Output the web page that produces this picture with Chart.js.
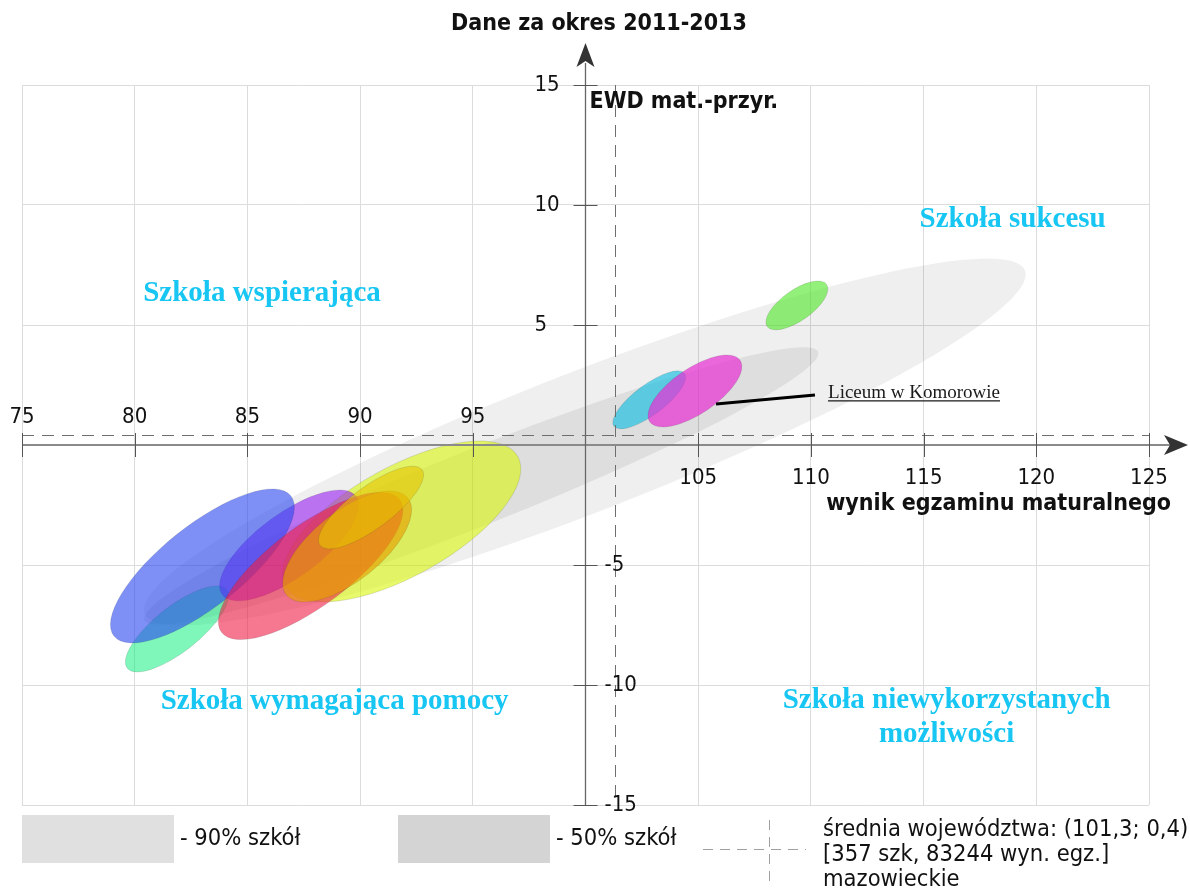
<!DOCTYPE html>
<html lang="pl">
<head>
<meta charset="utf-8">
<title>EWD mat.-przyr. 2011-2013</title>
<script src="https://cdn.jsdelivr.net/npm/chart.js@4.4.1/dist/chart.umd.min.js"></script>
<style>
  html, body { margin: 0; padding: 0; background: #fff; }
  canvas { display: block; }
</style>
</head>
<body>
<canvas id="ewdChart" width="1190" height="889"></canvas>
<script>
// ── Data ──────────────────────────────────────────────────
const xTicksAbove = [75, 80, 85, 90, 95];
const xTicksBelow = [105, 110, 115, 120, 125];
const yTicksLeft  = [5, 10, 15];
const yTicksRight = [-5, -10, -15];
const allXTicks   = [75, 80, 85, 90, 95, 100, 105, 110, 115, 120, 125];
const allYTicks   = [-15, -10, -5, 0, 5, 10, 15];

const avgX = 101.3;   // średnia województwa
const avgY = 0.4;

// areas of schools: ends of the long axis + width/length ratio
const areaX1    = [80.44, 80.43];
const areaY1    = [-7.02, -7.29];
const areaX2    = [119.50, 110.32];
const areaY2    = [7.27, 3.88];
const areaRatio = [0.148, 0.105];

// single schools (ellipse = confidence region)
const schoolX1    = [108.06, 101.26, 102.85, 86.69, 79.67, 83.88, 79.08, 83.85, 86.73, 88.22];
const schoolY1    = [4.94, 0.78, 0.97, -5.89, -9.30, -6.23, -7.96, -7.80, -6.25, -4.18];
const schoolX2    = [110.70, 104.40, 106.86, 97.00, 84.08, 89.82, 86.93, 91.76, 92.12, 92.75];
const schoolY2    = [6.69, 2.98, 3.53, -0.48, -6.03, -2.14, -2.12, -2.28, -2.21, -1.03];
const schoolRatio = [0.42, 0.34, 0.415, 0.409, 0.356, 0.384, 0.36, 0.36, 0.445, 0.33];

// leader line for the highlighted school
const markerX = [105.79, 110.18];
const markerY = [1.71, 2.08];

const quadrantLabels = ['Szkoła wspierająca', 'Szkoła sukcesu', 'Szkoła wymagająca pomocy',
                        'Szkoła niewykorzystanych', 'możliwości'];

// ── Styles ────────────────────────────────────────────────
const areaColors   = ['rgba(0,0,0,0.062)', 'rgba(0,0,0,0.075)'];
const schoolColors = [
  'rgba(80,230,40,0.62)',   // green top
  'rgba(20,190,225,0.65)',  // cyan
  'rgba(230,50,210,0.72)',  // magenta
  'rgba(215,245,0,0.58)',   // big yellow
  'rgba(0,240,120,0.5)',    // mint
  'rgba(150,30,240,0.6)',   // purple
  'rgba(40,70,240,0.6)',    // blue
  'rgba(240,30,70,0.6)',    // red
  'rgba(230,160,0,0.65)',   // orange
  'rgba(230,195,0,0.6)',    // gold
];

const SANS  = '"DejaVu Sans Condensed", "DejaVu Sans", sans-serif';
const SERIF = '"Liberation Serif", "Times New Roman", serif';
const CYAN  = '#17c6f2';

function drawEllipse(ctx, xs, ys, x1, y1, x2, y2, ratio, fill) {
  const px1 = xs.getPixelForValue(x1), py1 = ys.getPixelForValue(y1);
  const px2 = xs.getPixelForValue(x2), py2 = ys.getPixelForValue(y2);
  const a   = Math.hypot(px2 - px1, py2 - py1) / 2;
  const ang = Math.atan2(py2 - py1, px2 - px1);
  ctx.beginPath();
  ctx.ellipse((px1 + px2) / 2, (py1 + py2) / 2, a, a * ratio, ang, 0, Math.PI * 2);
  ctx.fillStyle = fill;
  ctx.fill();
}

function text(ctx, str, x, y, font, color, align) {
  ctx.font = font;
  ctx.fillStyle = color;
  ctx.textAlign = align || 'left';
  ctx.textBaseline = 'middle';
  ctx.fillText(str, x, y);
}

const ewdPlugin = {
  id: 'ewdPlugin',
  beforeDatasetsDraw(chart) {
    const { ctx, scales: { x, y } } = chart;
    ctx.save();
    areaX1.forEach((_, i) =>
      drawEllipse(ctx, x, y, areaX1[i], areaY1[i], areaX2[i], areaY2[i], areaRatio[i], areaColors[i]));
    ctx.lineWidth = 0.8;
    schoolX1.forEach((_, i) => {
      drawEllipse(ctx, x, y, schoolX1[i], schoolY1[i], schoolX2[i], schoolY2[i], schoolRatio[i], schoolColors[i]);
      ctx.strokeStyle = 'rgba(60,60,60,0.18)';
      ctx.stroke();
    });
    ctx.restore();
  },
  afterDatasetsDraw(chart) {
    const { ctx, chartArea: ca, scales: { x, y } } = chart;
    const x0 = x.getPixelForValue(100), y0 = y.getPixelForValue(0);
    ctx.save();

    // average lines
    ctx.strokeStyle = '#6e6e6e';
    ctx.lineWidth = 1;
    ctx.setLineDash([12, 8]);
    const ax = Math.round(x.getPixelForValue(avgX)) + 0.5;
    const ay = Math.round(y.getPixelForValue(avgY)) + 0.5;
    ctx.beginPath();
    ctx.moveTo(ax, ca.top); ctx.lineTo(ax, ca.bottom);
    ctx.moveTo(ca.left, ay); ctx.lineTo(ca.right, ay);
    ctx.stroke();
    ctx.setLineDash([]);

    // axes
    ctx.strokeStyle = '#8a8a8a';
    ctx.lineWidth = 2;
    ctx.beginPath();
    ctx.moveTo(ca.left, y0); ctx.lineTo(ca.right + 22, y0);
    ctx.stroke();
    ctx.strokeStyle = '#666';
    ctx.lineWidth = 1.3;
    ctx.beginPath();
    ctx.moveTo(x0, ca.bottom); ctx.lineTo(x0, ca.top - 22);
    ctx.stroke();

    // arrow heads
    ctx.fillStyle = '#333';
    ctx.beginPath();
    ctx.moveTo(x0, ca.top - 42);
    ctx.lineTo(x0 + 9, ca.top - 18);
    ctx.lineTo(x0, ca.top - 24);
    ctx.lineTo(x0 - 9, ca.top - 18);
    ctx.closePath();
    ctx.fill();
    ctx.beginPath();
    ctx.moveTo(ca.right + 39, y0);
    ctx.lineTo(ca.right + 15, y0 - 10);
    ctx.lineTo(ca.right + 21, y0);
    ctx.lineTo(ca.right + 15, y0 + 10);
    ctx.closePath();
    ctx.fill();

    // tick marks
    ctx.strokeStyle = '#555';
    ctx.lineWidth = 1;
    ctx.beginPath();
    allXTicks.forEach(v => {
      if (v === 100) return;
      const px = Math.round(x.getPixelForValue(v)) + 0.5;
      ctx.moveTo(px, y0 - 12); ctx.lineTo(px, y0 + 12);
    });
    allYTicks.forEach(v => {
      if (v === 0) return;
      const py = Math.round(y.getPixelForValue(v)) + 0.5;
      ctx.moveTo(x0 - 12, py); ctx.lineTo(x0 + 12, py);
    });
    ctx.stroke();

    // tick labels
    const tickFont = '22px ' + SANS;
    xTicksAbove.forEach(v => text(ctx, String(v), x.getPixelForValue(v), y0 - 28, tickFont, '#111', 'center'));
    xTicksBelow.forEach(v => text(ctx, String(v), x.getPixelForValue(v), y0 + 33, tickFont, '#111', 'center'));
    yTicksLeft.forEach(v => text(ctx, String(v), x0 - 51, y.getPixelForValue(v), tickFont, '#111', 'left'));
    yTicksRight.forEach(v => text(ctx, String(v), x0 + 19, y.getPixelForValue(v), tickFont, '#111', 'left'));

    // titles
    const boldFont = 'bold 23px ' + SANS;
    text(ctx, 'Dane za okres 2011-2013', 599, 24, boldFont, '#111', 'center');
    text(ctx, 'EWD mat.-przyr.', x0 + 4, ca.top + 17, boldFont, '#111', 'left');
    text(ctx, 'wynik egzaminu maturalnego', ca.right + 22, y0 + 59, boldFont, '#111', 'right');

    // quadrant labels
    const qFont = 'bold 29px ' + SERIF;
    text(ctx, quadrantLabels[0], x.getPixelForValue(85.65),  y.getPixelForValue(6.3),    qFont, CYAN, 'center');
    text(ctx, quadrantLabels[1], x.getPixelForValue(118.95), y.getPixelForValue(9.4),    qFont, CYAN, 'center');
    text(ctx, quadrantLabels[2], x.getPixelForValue(88.87),  y.getPixelForValue(-10.68), qFont, CYAN, 'center');
    text(ctx, quadrantLabels[3], x.getPixelForValue(116.02), y.getPixelForValue(-10.63), qFont, CYAN, 'center');
    text(ctx, quadrantLabels[4], x.getPixelForValue(116.02), y.getPixelForValue(-12.05), qFont, CYAN, 'center');

    // highlighted school
    ctx.strokeStyle = '#000';
    ctx.lineWidth = 3;
    ctx.beginPath();
    ctx.moveTo(x.getPixelForValue(markerX[0]), y.getPixelForValue(markerY[0]));
    ctx.lineTo(x.getPixelForValue(markerX[1]), y.getPixelForValue(markerY[1]));
    ctx.stroke();
    const lx = x.getPixelForValue(110.76), ly = y.getPixelForValue(2.17);
    ctx.font = '19px ' + SERIF;
    text(ctx, 'Liceum w Komorowie', lx, ly, ctx.font, '#1a1a1a', 'left');
    const lw = ctx.measureText('Liceum w Komorowie').width;
    ctx.lineWidth = 1.3;
    ctx.strokeStyle = '#1a1a1a';
    ctx.beginPath();
    ctx.moveTo(lx, ly + 8); ctx.lineTo(lx + lw, ly + 8);
    ctx.stroke();

    // legend
    const legFont = '23.5px ' + SANS;
    ctx.fillStyle = '#e0e0e0';
    ctx.fillRect(22, 815, 152, 48);
    text(ctx, '- 90% szkół', 180, 839, legFont, '#111', 'left');
    ctx.fillStyle = '#d4d4d4';
    ctx.fillRect(398, 815, 152, 48);
    text(ctx, '- 50% szkół', 556, 839, legFont, '#111', 'left');
    ctx.strokeStyle = '#a0a0a0';
    ctx.lineWidth = 1;
    ctx.setLineDash([10, 7]);
    ctx.beginPath();
    ctx.moveTo(703, 849.5); ctx.lineTo(806, 849.5);
    ctx.moveTo(769.5, 820); ctx.lineTo(769.5, 882);
    ctx.stroke();
    ctx.setLineDash([]);
    text(ctx, 'średnia województwa: (101,3; 0,4)', 823, 830, legFont, '#111', 'left');
    text(ctx, '[357 szk, 83244 wyn. egz.]', 823, 855, legFont, '#111', 'left');
    text(ctx, 'mazowieckie', 823, 880, legFont, '#111', 'left');

    ctx.restore();
  },
};

new Chart(document.getElementById('ewdChart'), {
  type: 'scatter',
  data: { datasets: [{ data: [], pointRadius: 0 }] },
  options: {
    responsive: false,
    animation: false,
    events: [],
    layout: { padding: { left: 22, right: 41, top: 85, bottom: 84 } },
    scales: {
      x: {
        type: 'linear', min: 75, max: 125,
        ticks: { display: false, stepSize: 5 },
        grid: { color: '#dcdcdc', drawTicks: false },
        border: { display: false },
      },
      y: {
        type: 'linear', min: -15, max: 15,
        ticks: { display: false, stepSize: 5 },
        grid: { color: '#dcdcdc', drawTicks: false },
        border: { display: false },
      },
    },
    plugins: { legend: { display: false }, tooltip: { enabled: false } },
  },
  plugins: [ewdPlugin],
});
</script>
</body>
</html>
